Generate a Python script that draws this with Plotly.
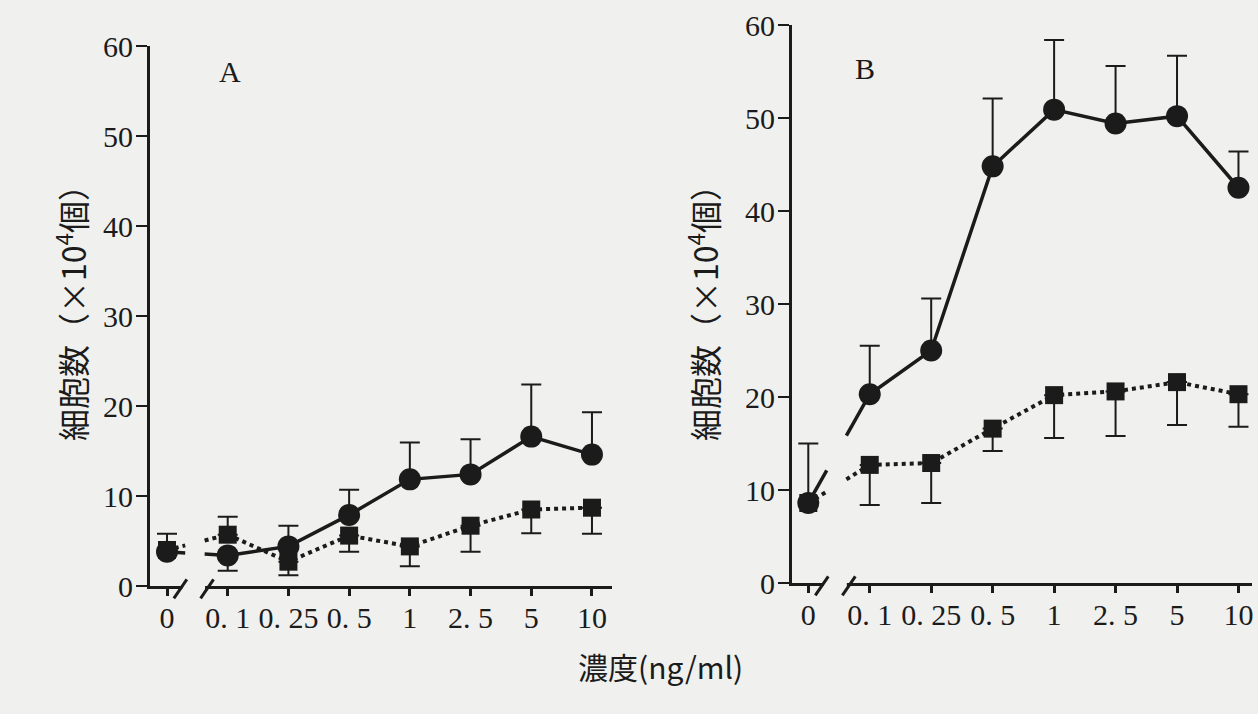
import plotly.graph_objects as go

# ---------------- data ----------------
conc_labels = ["0", "0. 1", "0. 25", "0. 5", "1", "2. 5", "5", "10"]
pos = list(range(len(conc_labels)))

A_circle = [3.8, 3.4, 4.4, 7.9, 11.85, 12.4, 16.6, 14.6]
A_circle_err_up = [2.0, 0.0, 2.3, 2.8, 4.1, 3.9, 5.8, 4.7]
A_circle_err_down = [0.0, 1.7, 0.0, 0.0, 0.0, 0.0, 0.0, 0.0]
A_square = [4.0, 5.7, 2.7, 5.6, 4.4, 6.7, 8.5, 8.7]
A_square_err_up = [0.0, 2.0, 0.0, 0.0, 0.0, 0.0, 0.0, 0.0]
A_square_err_down = [0.0, 0.0, 1.5, 1.8, 2.2, 2.9, 2.65, 2.9]

B_circle = [8.6, 20.3, 25.0, 44.8, 50.9, 49.4, 50.2, 42.5]
B_circle_err_up = [6.4, 5.2, 5.6, 7.3, 7.5, 6.2, 6.5, 3.9]
B_circle_err_down = [0.0] * 8
B_square = [8.6, 12.7, 12.9, 16.6, 20.2, 20.6, 21.6, 20.3]
B_square_err_up = [0.0] * 8
B_square_err_down = [0.0, 4.3, 4.3, 2.4, 4.6, 4.8, 4.6, 3.5]

y_ticks = [0, 10, 20, 30, 40, 50, 60]

# ---------------- style ----------------
INK = "#1b1b1b"
BG = "#f0f0ee"
NUM_FONT = "Liberation Serif"
CJK_FONT = "Noto Sans CJK JP"

W, H = 1258, 714
domA_x = [150 / W, 612 / W]
domA_y = [(H - 586) / H, (H - 46) / H]
rngA_x = [-0.28, 7.33]
domB_x = [792 / W, 1252 / W]
domB_y = [(H - 583) / H, (H - 25) / H]
rngB_x = [-0.265, 7.22]

fig = go.Figure()


def stub(vals, t0, t1):
    """piece of the 0 -> 0.1 connection, interpolated along the data segment"""
    xs = [pos[0] + t0 * (pos[1] - pos[0]), pos[0] + t1 * (pos[1] - pos[0])]
    ys = [vals[0] + t0 * (vals[1] - vals[0]), vals[0] + t1 * (vals[1] - vals[0])]
    return xs, ys


def add_panel(xa, ya, circ, cu, cd, sq, su, sd):
    for seg in [(0, 0.3), (0.62, 1.0)]:
        xs, ys = stub(sq, *seg)
        fig.add_trace(go.Scatter(x=xs, y=ys, mode="lines", xaxis=xa, yaxis=ya,
                                 line=dict(color=INK, width=4, dash="dot"),
                                 showlegend=False, hoverinfo="skip", cliponaxis=False))
    fig.add_trace(go.Scatter(x=pos[1:], y=sq[1:], mode="lines", xaxis=xa, yaxis=ya,
                             line=dict(color=INK, width=4, dash="dot"),
                             showlegend=False, cliponaxis=False))
    for seg in [(0, 0.3), (0.62, 1.0)]:
        xs, ys = stub(circ, *seg)
        fig.add_trace(go.Scatter(x=xs, y=ys, mode="lines", xaxis=xa, yaxis=ya,
                                 line=dict(color=INK, width=3.5),
                                 showlegend=False, hoverinfo="skip", cliponaxis=False))
    fig.add_trace(go.Scatter(x=pos[1:], y=circ[1:], mode="lines", xaxis=xa, yaxis=ya,
                             line=dict(color=INK, width=3.5),
                             showlegend=False, cliponaxis=False))
    fig.add_trace(go.Scatter(x=pos, y=sq, mode="markers", xaxis=xa, yaxis=ya,
                             marker=dict(symbol="square", size=18, color=INK),
                             error_y=dict(type="data", symmetric=False, array=su, arrayminus=sd,
                                          color=INK, thickness=2, width=10),
                             showlegend=False, cliponaxis=False))
    fig.add_trace(go.Scatter(x=pos, y=circ, mode="markers", xaxis=xa, yaxis=ya,
                             marker=dict(symbol="circle", size=22, color=INK),
                             error_y=dict(type="data", symmetric=False, array=cu, arrayminus=cd,
                                          color=INK, thickness=2, width=10),
                             showlegend=False, cliponaxis=False))


add_panel("x", "y", A_circle, A_circle_err_up, A_circle_err_down,
          A_square, A_square_err_up, A_square_err_down)
add_panel("x2", "y2", B_circle, B_circle_err_up, B_circle_err_down,
          B_square, B_square_err_up, B_square_err_down)

xaxis_common = dict(tickmode="array", tickvals=pos, ticktext=conc_labels, automargin=False,
                    showgrid=False, zeroline=False, showline=True, linecolor=INK, linewidth=3,
                    ticks="outside", ticklen=7, tickwidth=3, tickcolor=INK,
                    ticklabelstandoff=-4,
                    tickfont=dict(family=NUM_FONT, size=30, color=INK), fixedrange=True)
yaxis_common = dict(range=[0, 60], tickmode="array", tickvals=y_ticks, automargin=False,
                    showgrid=False, zeroline=False, showline=True, linecolor=INK, linewidth=3,
                    ticks="outside", ticklen=11, tickwidth=2, tickcolor=INK,
                    ticklabelstandoff=-3,
                    tickfont=dict(family=NUM_FONT, size=30, color=INK), fixedrange=True)

fig.update_layout(
    width=W, height=H,
    paper_bgcolor=BG, plot_bgcolor=BG,
    margin=dict(l=0, r=0, t=0, b=0, autoexpand=False),
    xaxis=dict(domain=domA_x, range=rngA_x, anchor="y", **xaxis_common),
    yaxis=dict(domain=domA_y, anchor="x", **yaxis_common),
    xaxis2=dict(domain=domB_x, range=rngB_x, anchor="y2", **xaxis_common),
    yaxis2=dict(domain=domB_y, anchor="x2", **yaxis_common),
)


def px_paper(v, dom, rng):
    return dom[0] + (v - rng[0]) / (rng[1] - rng[0]) * (dom[1] - dom[0])


# axis breaks between "0" and "0.1"
shapes = []
for dom_x, rng_x, dom_y in [(domA_x, rngA_x, domA_y), (domB_x, rngB_x, domB_y)]:
    x_a = px_paper(0.22, dom_x, rng_x)
    x_b = px_paper(0.66, dom_x, rng_x)
    y0 = dom_y[0]
    dx = 13 / W
    dy = 19 / H
    shapes.append(dict(type="rect", xref="paper", yref="paper",
                       x0=x_a + 2 / W, x1=x_b - 2 / W, y0=y0 - 4 / H, y1=y0 + 4 / H,
                       fillcolor=BG, line=dict(width=0), layer="above"))
    for xc in (x_a, x_b):
        shapes.append(dict(type="line", xref="paper", yref="paper",
                           x0=xc - dx / 2, y0=y0 - dy * 0.65, x1=xc + dx / 2, y1=y0 + dy * 0.35,
                           line=dict(color=INK, width=3), layer="above"))
fig.update_layout(shapes=shapes)

ytitle = "細胞数（×10<sup>4</sup>個）"
annotations = [
    dict(text="A", x=217 / W, y=1 - 53 / H, xref="paper", yref="paper", showarrow=False,
         font=dict(family=NUM_FONT, size=30, color=INK)),
    dict(text="B", x=877 / W, y=1 - 50 / H, xref="paper", yref="paper", showarrow=False,
         font=dict(family=NUM_FONT, size=30, color=INK)),
    dict(text=ytitle, x=45 / W, y=1 - 305 / H, xref="paper", yref="paper", showarrow=False,
         textangle=-90, font=dict(family=CJK_FONT, size=32, color=INK)),
    dict(text=ytitle, x=703 / W, y=1 - 305 / H, xref="paper", yref="paper", showarrow=False,
         textangle=-90, font=dict(family=CJK_FONT, size=32, color=INK)),
    dict(text="濃度(ng/ml)", x=660 / W, y=1 - 690 / H, xref="paper", yref="paper",
         showarrow=False, font=dict(family=CJK_FONT, size=30, color=INK)),
]
fig.update_layout(annotations=annotations)

fig.write_html("out.html", config={"responsive": False, "displayModeBar": False},
               post_script="document.body.style.margin='0';document.body.style.overflow='hidden';")
